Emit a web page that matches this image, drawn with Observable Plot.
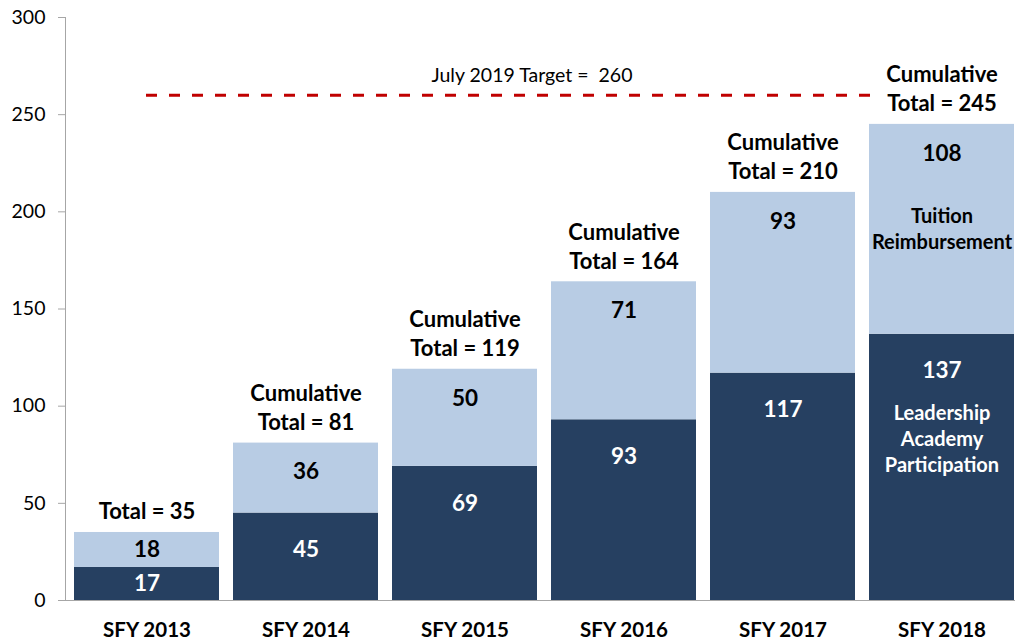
<!DOCTYPE html>
<html><head><meta charset="utf-8">
<script src="https://cdn.jsdelivr.net/npm/d3@7"></script>
<script src="https://cdn.jsdelivr.net/npm/@observablehq/plot@0.6"></script>
<style>body{margin:0;background:#fff;font-family:Lato,"Open Sans",sans-serif;}</style>
</head><body><div id="chart"></div>
<script>
const years = ["SFY 2013", "SFY 2014", "SFY 2015", "SFY 2016", "SFY 2017", "SFY 2018"];
const leadership = [17, 45, 69, 93, 117, 137];
const tuition = [18, 36, 50, 71, 93, 108];
const totals = [35, 81, 119, 164, 210, 245];
const totalPrefixes = ["Total = ", "Cumulative\nTotal = ", "Cumulative\nTotal = ", "Cumulative\nTotal = ", "Cumulative\nTotal = ", "Cumulative\nTotal = "];
const seriesKeys = ["Leadership", "Tuition"];
const seriesNames = ["Leadership\nAcademy\nParticipation", "Tuition\nReimbursement"];
const target = 260;
const targetLabel = "July 2019 Target =  260";
const yTicks = [0, 50, 100, 150, 200, 250, 300];

const dark = "#264061", light = "#b8cce4", red = "#c00000", grey = "#a6a6a6";

const rowsL = years.map((year, i) => ({year, series: seriesKeys[0], value: leadership[i], top: leadership[i]}));
const rowsT = years.map((year, i) => ({year, series: seriesKeys[1], value: tuition[i], top: leadership[i] + tuition[i]}));
const rows = [...rowsL, ...rowsT];
const totalRows = years.map((year, i) => ({year, total: totals[i], label: totalPrefixes[i] + totals[i]}));
const last = years.length - 1;
const nameRows = [
  {year: years[last], y: rowsL[last].top - 53, text: seriesNames[0], fill: "white"},
  {year: years[last], y: rowsT[last].top - 53, text: seriesNames[1], fill: "black"}
];
const targetRows = [{from: years[0], to: years[last - 1], value: target, label: targetLabel, at: years[2]}];

const chart = Plot.plot({
  width: 1015,
  height: 644,
  marginLeft: 65,
  marginRight: 0,
  marginTop: 17,
  marginBottom: 44,
  style: {fontFamily: "Lato, 'Open Sans', sans-serif", background: "white", overflow: "visible"},
  x: {domain: years, range: [65, 1022.6], paddingInner: 0.09, paddingOuter: 0.045, label: null},
  y: {domain: [0, 300], label: null},
  color: {domain: seriesKeys, range: [dark, light]},
  marks: [
    Plot.barY(rows, {x: "year", y: "value", fill: "series", order: seriesKeys}),
    Plot.ruleY([0], {stroke: grey, strokeWidth: 1}),
    Plot.frame({anchor: "left", stroke: grey}),
    Plot.axisY({ticks: yTicks, tickSize: 7, tickPadding: 13, stroke: grey, fontSize: 19.5, fill: "black"}),
    Plot.axisX({tickSize: 0, tickPadding: 22, fontSize: 20.5, fontWeight: "bold", fill: "black"}),
    Plot.ruleY(targetRows, {x1: "from", x2: "to", y: "value", insetLeft: 72, insetRight: -22, stroke: red, strokeWidth: 3, strokeDasharray: "11,12"}),
    Plot.text(targetRows, {x: "at", y: "value", text: "label", dx: 67, dy: -19, fontSize: 19.5, fill: "black"}),
    Plot.text(rowsL, {x: "year", y: d => Math.max(d.top - 19, d.top - d.value / 2), text: d => String(d.value), fill: "white", fontWeight: "bold", fontSize: 22.5}),
    Plot.text(rowsT, {x: "year", y: d => Math.max(d.top - 15, d.top - d.value / 2), text: d => String(d.value), fill: "black", fontWeight: "bold", fontSize: 22.5}),
    Plot.text(totalRows, {x: "year", y: "total", text: "label", lineAnchor: "bottom", dy: -13, lineHeight: 1.32, fontSize: 22, fontWeight: "bold", fill: "black"}),
    Plot.text(nameRows, {x: "year", y: "y", text: "text", fill: d => d.fill, fontWeight: "bold", fontSize: 20, lineHeight: 1.3})
  ]
});
document.getElementById("chart").appendChild(chart);
</script>
</body></html>
